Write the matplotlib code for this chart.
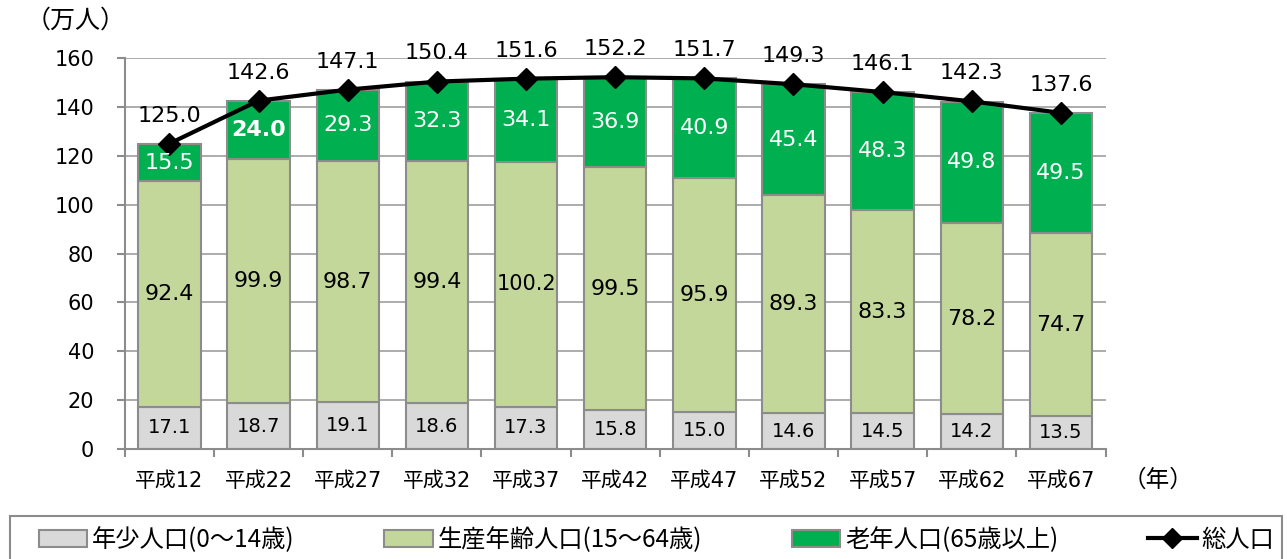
import numpy as np
import matplotlib.pyplot as plt
from matplotlib.lines import Line2D
from matplotlib.patches import Patch, Rectangle

# digits in DejaVu (wide, like Meiryo), kanji fall back to Noto CJK
plt.rcParams['font.family'] = ['DejaVu Sans', 'Noto Sans CJK JP']

years = ['平成12', '平成22', '平成27', '平成32', '平成37', '平成42',
         '平成47', '平成52', '平成57', '平成62', '平成67']
young = [17.1, 18.7, 19.1, 18.6, 17.3, 15.8, 15.0, 14.6, 14.5, 14.2, 13.5]
working = [92.4, 99.9, 98.7, 99.4, 100.2, 99.5, 95.9, 89.3, 83.3, 78.2, 74.7]
elderly = [15.5, 24.0, 29.3, 32.3, 34.1, 36.9, 40.9, 45.4, 48.3, 49.8, 49.5]
total = [125.0, 142.6, 147.1, 150.4, 151.6, 152.2, 151.7, 149.3, 146.1, 142.3, 137.6]

c_young = '#D9D9D9'
c_work = '#C4D79B'
c_old = '#00B050'
edge = '#8C8C8C'

fig = plt.figure(figsize=(12.87, 5.59), dpi=100)
ax = fig.add_axes([0.097, 0.197, 0.762, 0.699])

x = np.arange(len(years))
w = 0.7
young = np.array(young)
working = np.array(working)
elderly = np.array(elderly)

ax.bar(x, young, w, color=c_young, edgecolor=edge, linewidth=1.5, zorder=2)
ax.bar(x, working, w, bottom=young, color=c_work, edgecolor=edge, linewidth=1.5, zorder=2)
ax.bar(x, elderly, w, bottom=young + working, color=c_old, edgecolor=edge, linewidth=1.5, zorder=2)
ax.plot(x, total, color='black', lw=3, marker='D', ms=11, zorder=4)

for i in range(len(x)):
    ax.text(x[i], young[i] / 2, f'{young[i]:.1f}', ha='center', va='center', fontsize=14, zorder=5)
    ax.text(x[i], young[i] + working[i] / 2, f'{working[i]:.1f}', ha='center', va='center',
            fontsize=16 if working[i] < 100 else 15, zorder=5)
    ax.text(x[i], young[i] + working[i] + elderly[i] / 2, f'{elderly[i]:.1f}', ha='center', va='center',
            fontsize=16, color='white', fontweight='bold' if i == 1 else 'normal', zorder=5)
    ax.text(x[i], total[i] + 11.5, f'{total[i]:.1f}', ha='center', va='center', fontsize=16, zorder=5)

ax.set_ylim(0, 160)
ax.set_xlim(-0.5, len(x) - 0.5)
ax.set_yticks(range(0, 161, 20))
ax.yaxis.grid(True, color='#A6A6A6', lw=1.3, zorder=0)
ax.set_axisbelow(True)
ax.set_xticks(x)
ax.set_xticklabels(years)
ax.set_xticks(np.arange(-0.5, len(x), 1), minor=True)
ax.tick_params(axis='x', which='major', length=0, labelsize=15, pad=16)
ax.tick_params(axis='x', which='minor', length=6, width=1.5, color='#8C8C8C')
ax.tick_params(axis='y', length=6, width=1.5, color='#8C8C8C', labelsize=15, pad=16)
for s in ['top', 'right']:
    ax.spines[s].set_visible(False)
for s in ['left', 'bottom']:
    ax.spines[s].set_color('#8C8C8C')
    ax.spines[s].set_linewidth(1.5)

fig.text(0.02, 0.963, '（万人）', fontsize=18, va='center', family='Noto Sans CJK JP')
fig.text(0.872, 0.141, '（年）', fontsize=17, va='center', family='Noto Sans CJK JP')

# legend frame drawn separately so the entries can sit inset from it
fig.add_artist(Rectangle((0.008, -0.01), 0.988, 0.087, transform=fig.transFigure,
                         facecolor='white', edgecolor=edge, lw=1.5, zorder=1))
handles = [Patch(facecolor=c_young, edgecolor=edge, lw=1.5),
           Patch(facecolor=c_work, edgecolor=edge, lw=1.5),
           Patch(facecolor=c_old, edgecolor=edge, lw=1.5),
           Line2D([], [], color='black', lw=3, marker='D', ms=10)]
labels = ['年少人口(0〜14歳)', '生産年齢人口(15〜64歳)', '老年人口(65歳以上)', '総人口']
leg = fig.legend(handles, labels, loc='center left', bbox_to_anchor=(0.03, 0.034, 0.96, 0),
                 mode='expand', ncol=4, frameon=False,
                 prop={'family': 'Noto Sans CJK JP', 'size': 17.5},
                 handlelength=2.0, handletextpad=0.2, borderpad=0, borderaxespad=0)
leg.set_zorder(2)

fig.savefig('out.png', dpi=100)
